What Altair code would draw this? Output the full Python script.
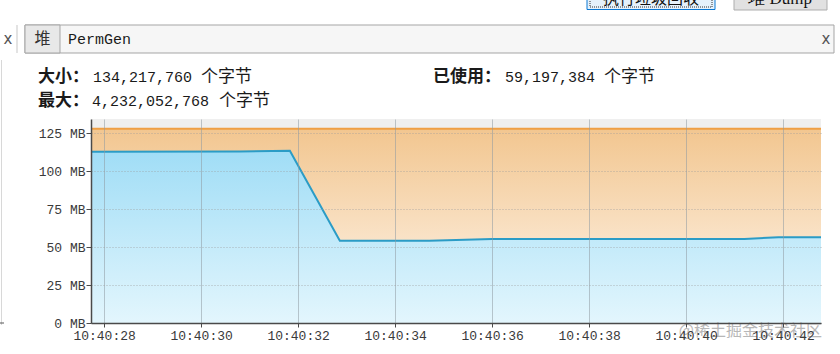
import altair as alt
import pandas as pd

# ---------------- data ----------------
# time in seconds after 10:40:00
time_s = [27.73, 30.80, 31.83, 32.86, 34.70, 36.00, 41.20, 41.90, 42.78]
used_mb = [112.9, 113.0, 113.5, 54.2, 54.2, 55.4, 55.4, 56.45, 56.45]
committed_mb = [128.0, 128.0, 128.0, 128.0, 128.0, 128.0, 128.0, 128.0, 128.0]

x_ticks = [28, 30, 32, 34, 36, 38, 40, 42]
y_ticks = [0, 25, 50, 75, 100, 125]
x_domain = [27.73, 42.78]
y_domain = [0, 134.4]

size_label, size_value = "大小：", "134,217,760"
used_label, used_value = "已使用：", "59,197,384"
max_label, max_value = "最大：", "4,232,052,768"
unit_text = "个字节"
tab_heap, tab_perm = "堆", "PermGen"
btn_gc, btn_dump = "执行垃圾回收", "堆 Dump"
watermark = "@稀土掘金技术社区"

# ---------------- layout ----------------
L, T, W, H = 91, 119, 730, 204
PAD = {"left": L, "top": T, "right": 840 - L - W, "bottom": 354 - T - H}


def px(x):
    return x - L


def py(y):
    return y - T


df = pd.DataFrame({"t": time_s, "used": used_mb, "committed": committed_mb})
dummy = alt.Data(values=[{"k": 0}])

MONO = "Liberation Mono"
CJK = "Noto Sans CJK SC"

x_enc = alt.X(
    "t:Q",
    scale=alt.Scale(domain=x_domain, nice=False, zero=False),
    axis=alt.Axis(
        values=x_ticks,
        labelExpr="'10:40:' + format(datum.value, '02d')",
        title=None,
        grid=True,
        gridColor="#8f9aa3",
        gridOpacity=0.55,
        gridWidth=1,
        domainColor="#4a4a4a",
        domainWidth=1.5,
        tickColor="#4a4a4a",
        tickSize=4,
        labelFont=MONO,
        labelFontSize=13,
        labelColor="#3a3a3a",
        labelPadding=2,
        labelOverlap=False,
        labelFlush=False,
        zindex=1,
    ),
)


def y_enc(field):
    return alt.Y(
        f"{field}:Q",
        scale=alt.Scale(domain=y_domain, nice=False),
        axis=alt.Axis(
            values=y_ticks,
            labelExpr="datum.value + ' MB'",
            title=None,
            grid=True,
            gridColor="#9a9a9a",
            gridOpacity=0.7,
            gridDash=[1, 2],
            domainColor="#4a4a4a",
            domainWidth=1.5,
            tickColor="#4a4a4a",
            tickSize=5,
            labelFont=MONO,
            labelFontSize=13,
            labelColor="#3a3a3a",
            labelPadding=1,
            zindex=1,
        ),
    )


orange_grad = alt.Gradient(
    gradient="linear",
    stops=[alt.GradientStop(color="#f2c690", offset=0),
           alt.GradientStop(color="#fff8f0", offset=1)],
    x1=1, x2=1, y1=0, y2=1,
)
blue_grad = alt.Gradient(
    gradient="linear",
    stops=[alt.GradientStop(color="#a0ddf6", offset=0),
           alt.GradientStop(color="#e3f6fd", offset=1)],
    x1=1, x2=1, y1=0, y2=1,
)

base = alt.Chart(df)
committed_area = base.mark_area(color=orange_grad).encode(x=x_enc, y=y_enc("committed"))
used_area = base.mark_area(color=blue_grad).encode(x=x_enc, y=y_enc("used"))
committed_line = base.mark_line(color="#ef9f45", strokeWidth=2).encode(x=x_enc, y=y_enc("committed"))
used_line = base.mark_line(color="#2b9cc6", strokeWidth=2).encode(x=x_enc, y=y_enc("used"))


def rect(x1, y1, x2, y2, fill, stroke=None, dash=None, sw=1):
    kw = {"fill": fill}
    if stroke:
        kw["stroke"] = stroke
        kw["strokeWidth"] = sw
    if dash:
        kw["strokeDash"] = dash
    return alt.Chart(dummy).mark_rect(**kw).encode(
        x=alt.value(px(x1)), x2=alt.value(px(x2)),
        y=alt.value(py(y1)), y2=alt.value(py(y2)),
    )


def label(x, y, txt, font=CJK, size=16, weight="normal", color="#1a1a1a",
          align="left", baseline="middle", opacity=1.0):
    return alt.Chart(dummy).mark_text(
        text=txt, font=font, fontSize=size, fontWeight=weight, color=color,
        align=align, baseline=baseline, opacity=opacity,
    ).encode(x=alt.value(px(x)), y=alt.value(py(y)))


chrome = [
    # buttons (cut off at the top, as in the screenshot)
    rect(587, -4, 715, 9.5, "#e5f1fb", "#0a78d4"),
    rect(590, -4, 712, 7, "transparent", "#333333", [1, 1]),
    label(651, 4, btn_gc, size=16, color="#111111", align="center", baseline="alphabetic"),
    rect(734, -4, 827, 10, "#e1e1e1", "#adadad"),
    label(780, 4, btn_dump, font="Liberation Serif", size=17, color="#111111",
          align="center", baseline="alphabetic"),
    # tab strip
    rect(25, 25, 834, 53, "#f6f6f6", "#a5a5a5"),
    rect(25, 25, 60, 53, "#e8e8e8", "#a5a5a5"),
    rect(16.5, 25, 17.5, 53, "#c8c8c8"),
    label(8, 39, "x", font="DejaVu Sans", size=15, color="#555555", align="center"),
    label(42.5, 39, tab_heap, size=16, color="#333333", align="center"),
    label(68, 39, tab_perm, font=MONO, size=15, color="#1a1a1a"),
    label(826, 39, "x", font="DejaVu Sans", size=15, color="#555555", align="center"),
    # header info
    label(38, 77, size_label, size=17, weight="bold"),
    label(93, 77, size_value, font=MONO, size=15),
    label(201, 77, unit_text, size=17),
    label(433, 77, used_label, size=17, weight="bold"),
    label(505, 77, used_value, font=MONO, size=15),
    label(604, 77, unit_text, size=17),
    label(38, 101, max_label, size=17, weight="bold"),
    label(92, 101, max_value, font=MONO, size=15),
    label(219, 101, unit_text, size=17),
    # faint left panel edge
    rect(1, 60, 2, 325, "#d8d8d8"),
    rect(0, 322.5, 4, 323.5, "#555555"),
]

wm = label(822, 331, watermark, size=16, color="#9a9a9a", align="right", opacity=0.7)

chart = alt.layer(
    committed_area, used_area, committed_line, used_line, *chrome, wm
).properties(
    width=W, height=H,
    autosize=alt.AutoSizeParams(type="none"),
    padding=PAD,
    background="white",
).configure_view(
    stroke=None, fill="#efefef"
)

chart.save("out.html", embed_options={"renderer": "svg", "actions": False})
